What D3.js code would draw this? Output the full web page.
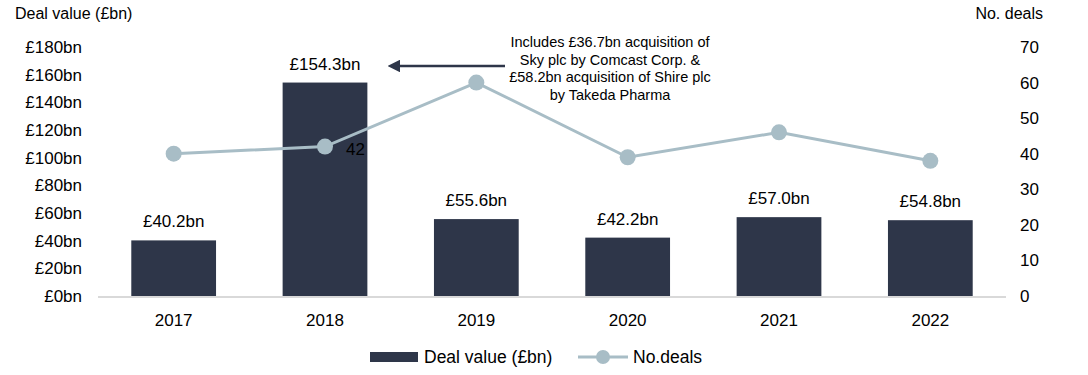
<!DOCTYPE html>
<html><head><meta charset="utf-8">
<script src="https://cdn.jsdelivr.net/npm/d3@7"></script>
<style>body{margin:0;background:#fff}svg{display:block;font-family:"Liberation Sans",Arial,sans-serif}</style>
</head><body><svg id="c" width="1088" height="375"></svg>
<script>
const years = ["2017","2018","2019","2020","2021","2022"];
const dealValue = [40.2,154.3,55.6,42.2,57.0,54.8];
const dealLabels = ["£40.2bn","£154.3bn","£55.6bn","£42.2bn","£57.0bn","£54.8bn"];
const noDeals = [40,42,60,39,46,38];
const leftTicks = [0,20,40,60,80,100,120,140,160,180];
const rightTicks = [0,10,20,30,40,50,60,70];
const noteLines = ["Includes £36.7bn acquisition of","Sky plc by Comcast Corp. &","£58.2bn acquisition of Shire plc","by Takeda Pharma"];

const barColor = "#2e3649", lineColor = "#a8bdc6";
const svg = d3.select("#c");
const x = d3.scaleBand().domain(years).range([98,1006]).paddingInner(0.44).paddingOuter(0.22);
const yL = d3.scaleLinear().domain([0,180]).range([296,47]);
const yR = d3.scaleLinear().domain([0,70]).range([296,47]);

svg.append("text").attr("x",15).attr("y",19).attr("font-size",16).text("Deal value (£bn)");
svg.append("text").attr("x",1043).attr("y",19).attr("font-size",16).attr("text-anchor","end").text("No. deals");

const gL = svg.append("g").attr("transform","translate(82,0)")
  .call(d3.axisLeft(yL).tickValues(leftTicks).tickSize(0).tickPadding(0).tickFormat(d=>"£"+d+"bn"));
gL.select(".domain").remove();
gL.selectAll("text").attr("font-size",17).attr("fill","#000").attr("font-family","Liberation Sans, Arial");

const gR = svg.append("g").attr("transform","translate(1020,0)")
  .call(d3.axisRight(yR).tickValues(rightTicks).tickSize(0).tickPadding(0));
gR.select(".domain").remove();
gR.selectAll("text").attr("font-size",17).attr("fill","#000").attr("font-family","Liberation Sans, Arial");

svg.append("g").selectAll("rect").data(years).join("rect")
  .attr("x",d=>x(d)).attr("width",x.bandwidth())
  .attr("y",(d,i)=>yL(dealValue[i])).attr("height",(d,i)=>yL(0)-yL(dealValue[i]))
  .attr("fill",barColor);

svg.append("line").attr("x1",98).attr("x2",1006).attr("y1",297).attr("y2",297)
  .attr("stroke","#d9d9d9").attr("stroke-width",2);

const gX = svg.append("g").attr("transform","translate(0,297)")
  .call(d3.axisBottom(x).tickSize(0).tickPadding(17));
gX.select(".domain").remove();
gX.selectAll("text").attr("font-size",17).attr("fill","#000").attr("font-family","Liberation Sans, Arial");

svg.append("g").selectAll("text").data(years).join("text")
  .attr("x",d=>x(d)+x.bandwidth()/2).attr("y",(d,i)=>yL(dealValue[i])-13)
  .attr("text-anchor","middle").attr("font-size",17).text((d,i)=>dealLabels[i]);

const line = d3.line().x((d,i)=>x(years[i])+x.bandwidth()/2).y(d=>yR(d));
svg.append("path").datum(noDeals).attr("d",line).attr("fill","none").attr("stroke",lineColor).attr("stroke-width",3);
svg.append("g").selectAll("circle").data(noDeals).join("circle")
  .attr("cx",(d,i)=>x(years[i])+x.bandwidth()/2).attr("cy",d=>yR(d)).attr("r",8).attr("fill",lineColor);

svg.append("text").attr("x",x("2018")+x.bandwidth()/2+21).attr("y",yR(noDeals[1])+8)
  .attr("font-size",17).text(noDeals[1]);

// annotation
const note = svg.append("text").attr("font-size",14.5).attr("text-anchor","middle");
noteLines.forEach((l,i)=>note.append("tspan").attr("x",610).attr("y",47+i*17.7).text(l));
svg.append("defs").append("marker").attr("id","ah").attr("viewBox","0 0 10 10").attr("refX",0).attr("refY",5)
  .attr("markerWidth",5).attr("markerHeight",5).attr("orient","auto-start-reverse").attr("markerUnits","strokeWidth")
  .append("path").attr("d","M0,0L10,5L0,10z").attr("fill","#2e3649");
svg.append("line").attr("x1",505).attr("x2",400).attr("y1",66).attr("y2",66)
  .attr("stroke","#2e3649").attr("stroke-width",2.5).attr("marker-end","url(#ah)");

// legend
svg.append("rect").attr("x",370).attr("y",352).attr("width",48).attr("height",10).attr("fill",barColor);
svg.append("text").attr("x",424).attr("y",363).attr("font-size",17.5).text("Deal value (£bn)");
svg.append("line").attr("x1",578).attr("x2",628).attr("y1",357).attr("y2",357).attr("stroke",lineColor).attr("stroke-width",3);
svg.append("circle").attr("cx",603).attr("cy",357).attr("r",7).attr("fill",lineColor);
svg.append("text").attr("x",633).attr("y",363).attr("font-size",17.5).text("No.deals");
</script></body></html>
